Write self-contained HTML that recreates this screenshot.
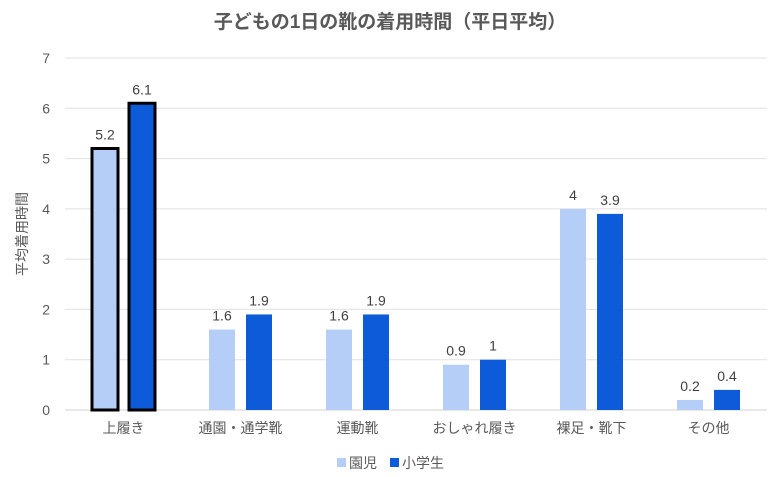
<!DOCTYPE html>
<html><head><meta charset="utf-8"><style>
body{margin:0;background:#fff;}
svg{display:block;font-family:"Liberation Sans","Noto Sans CJK JP",sans-serif;}
</style></head><body>
<svg id="chart" width="780" height="477">
<text x="390" y="28" text-anchor="middle" font-size="19" font-weight="bold" fill="#595959">子どもの1日の靴の着用時間（平日平均）</text>
<text transform="translate(27,234) rotate(-90)" text-anchor="middle" font-size="14" fill="#595959">平均着用時間</text>
<g id="grid"></g><g id="bars"></g>
<g>
<rect x="337" y="458" width="9" height="9" fill="#b4cef8"/>
<text x="349" y="468" font-size="14" fill="#595959">園児</text>
<rect x="390" y="458" width="9" height="9" fill="#0e5bd9"/>
<text x="402" y="468" font-size="14" fill="#595959">小学生</text>
</g>
</svg>
<script>
const categories=["上履き","通園・通学靴","運動靴","おしゃれ履き","裸足・靴下","その他"];
const kinder=[5.2,1.6,1.6,0.9,4,0.2];
const elem=[6.1,1.9,1.9,1,3.9,0.4];
const yTicks=[0,1,2,3,4,5,6,7];
const NS="http://www.w3.org/2000/svg";
const x0=65,x1=767,yB=410,yT=58,yMax=7;
const y=v=>yB-(v/yMax)*(yB-yT);
const band=(x1-x0)/categories.length;
const cx=i=>x0+band*(i+0.5);
function mk(t,a,p){const e=document.createElementNS(NS,t);for(const k in a)e.setAttribute(k,a[k]);p.appendChild(e);return e;}
const g=document.getElementById('grid'),b=document.getElementById('bars');
yTicks.forEach(v=>{
 const l=mk('line',{x1:x0,x2:x1,y1:y(v),y2:y(v),stroke:v===0?'#d0d0d0':'#e0e0e0','stroke-width':1},g);
 
 
 const t=mk('text',{x:50,y:y(v)+5,'text-anchor':'end','font-size':14,fill:'#595959'},g);
 t.textContent=v;
 
 
});
const bw=26,gap=11;
categories.forEach((c,i)=>{
 [[kinder,'#b4cef8',-1],[elem,'#0e5bd9',1]].forEach(([arr,col,s])=>{
  const v=arr[i];
  const bx=s<0?cx(i)-gap/2-bw:cx(i)+gap/2;
  const attrs={x:bx,y:y(v),width:bw,height:yB-y(v),fill:col};
  if(i===0){attrs.stroke='#000';attrs['stroke-width']=3;}
  const r=mk('rect',attrs,b);
  
  
  const t=mk('text',{x:bx+bw/2,y:y(v)-9,'text-anchor':'middle','font-size':14,fill:'#404040'},b);
  t.textContent=v;
  
  
 });
 const t=mk('text',{x:cx(i),y:433,'text-anchor':'middle','font-size':14,fill:'#595959'},b);
 t.textContent=c;
 
 
});
</script>
</body></html>
